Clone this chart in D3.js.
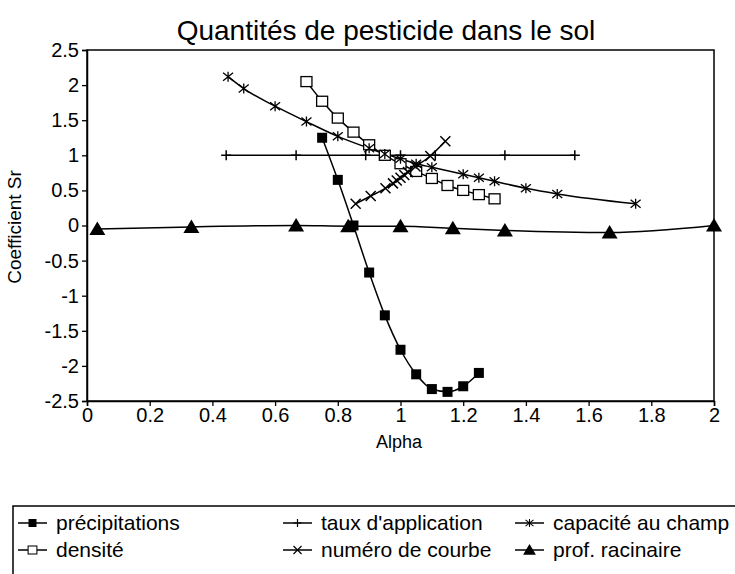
<!DOCTYPE html>
<html><head><meta charset="utf-8">
<script src="https://cdn.jsdelivr.net/npm/d3@7"></script>
<style>body{margin:0;background:#fff}svg{display:block}text{font-family:"Liberation Sans",Arial,sans-serif;fill:#000}</style>
</head><body><svg id="c" width="735" height="574"></svg>
<script>
const xTicks=[0,0.2,0.4,0.6,0.8,1,1.2,1.4,1.6,1.8,2];
const yTicks=[2.5,2,1.5,1,0.5,0,-0.5,-1,-1.5,-2,-2.5];
const precipX=[0.75,0.80,0.85,0.90,0.95,1.00,1.05,1.10,1.15,1.20,1.25];
const precipY=[1.25,0.65,0.00,-0.67,-1.28,-1.77,-2.12,-2.33,-2.37,-2.29,-2.10];
const densX=[0.70,0.75,0.80,0.85,0.90,0.95,1.00,1.05,1.10,1.15,1.20,1.25,1.30];
const densY=[2.05,1.77,1.53,1.33,1.15,1.00,0.88,0.77,0.67,0.57,0.50,0.44,0.38];
const tauxX=[0.444,0.667,0.889,1.0,1.111,1.333,1.556];
const tauxY=[1,1,1,1,1,1,1];
const courbeX=[0.857,0.905,0.952,0.976,0.988,1.0,1.012,1.024,1.048,1.095,1.143];
const courbeY=[0.31,0.42,0.53,0.60,0.64,0.68,0.72,0.76,0.84,0.99,1.20];
const capX=[0.45,0.5,0.6,0.7,0.8,0.9,0.95,1.0,1.05,1.1,1.2,1.25,1.3,1.4,1.5,1.75];
const capY=[2.12,1.95,1.70,1.48,1.27,1.10,1.02,0.95,0.88,0.83,0.73,0.68,0.63,0.53,0.45,0.31];
const profX=[0.033,0.333,0.667,0.833,1.0,1.167,1.333,1.667,2.0];
const profY=[-0.05,-0.02,0.0,-0.01,-0.01,-0.04,-0.07,-0.10,0.0];
const seriesNames=["précipitations","densité","taux d'application","numéro de courbe","capacité au champ","prof. racinaire"];

const svg=d3.select("#c");
const L=87,R=714,T=50,B=401;
const x=d3.scaleLinear().domain([0,2]).range([L,R]);
const y=d3.scaleLinear().domain([-2.5,2.5]).range([B,T]);

svg.append("text").attr("x",386).attr("y",40).attr("text-anchor","middle").style("font-size","28px").text("Quantités de pesticide dans le sol");

// frame
svg.append("rect").attr("x",L).attr("y",T).attr("width",R-L).attr("height",B-T).attr("fill","none").attr("stroke","#000").attr("stroke-width",1.5);
const gx=svg.append("g").attr("transform",`translate(0,${B})`).call(d3.axisBottom(x).tickValues(xTicks).tickSize(5).tickPadding(1).tickFormat(d=>String(d)));
const gy=svg.append("g").attr("transform",`translate(${L},0)`).call(d3.axisLeft(y).tickValues(yTicks).tickSize(5).tickPadding(3).tickFormat(d=>String(d)));
[gx,gy].forEach(g=>{g.select(".domain").attr("stroke-width",1.5);g.selectAll(".tick line").attr("stroke-width",1.3);g.selectAll("text").style("font-size","20px").style("font-family","Liberation Sans, Arial, sans-serif");});
gx.selectAll("text").attr("dy","0.75em");
svg.append("text").attr("x",399).attr("y",448).attr("text-anchor","middle").style("font-size","18px").text("Alpha");
svg.append("text").attr("transform","translate(21,227) rotate(-90)").attr("text-anchor","middle").style("font-size","19px").text("Coefficient Sr");

// markers
function marker(g,type,cx,cy){
  const s=g.append("g").attr("transform",`translate(${cx},${cy})`);
  if(type==="fsq") s.append("rect").attr("x",-5).attr("y",-5).attr("width",10).attr("height",10).attr("fill","#000");
  else if(type==="osq") s.append("rect").attr("x",-5.5).attr("y",-5).attr("width",11).attr("height",10).attr("fill","#fff").attr("stroke","#000").attr("stroke-width",1.3);
  else if(type==="plus") s.append("path").attr("d","M-5,0H5M0,-5V5").attr("stroke","#000").attr("stroke-width",1.5);
  else if(type==="x") s.append("path").attr("d","M-5,-5L5,5M-5,5L5,-5").attr("stroke","#000").attr("stroke-width",1.5);
  else if(type==="ast") s.append("path").attr("d","M-5,-4L5,4M-5,4L5,-4M0,-5V5").attr("stroke","#000").attr("stroke-width",1.3);
  else if(type==="tri") s.append("path").attr("d","M0,-7.5L8,6H-8Z").attr("fill","#000");
}
const series=[
 {name:seriesNames[0],xs:precipX,ys:precipY,m:"fsq"},
 {name:seriesNames[1],xs:densX,ys:densY,m:"osq"},
 {name:seriesNames[2],xs:tauxX,ys:tauxY,m:"plus"},
 {name:seriesNames[3],xs:courbeX,ys:courbeY,m:"x"},
 {name:seriesNames[4],xs:capX,ys:capY,m:"ast"},
 {name:seriesNames[5],xs:profX,ys:profY,m:"tri"}];
const line=d3.line().x(d=>x(d[0])).y(d=>y(d[1])).curve(d3.curveMonotoneX);
const plot=svg.append("g");
series.forEach(s=>{
  const pts=s.xs.map((v,i)=>[v,s.ys[i]]);
  plot.append("path").attr("d",line(pts)).attr("fill","none").attr("stroke","#000").attr("stroke-width",1.5);
});
series.forEach(s=>{
  s.xs.forEach((v,i)=>marker(plot,s.m,x(v),y(s.ys[i])));
});

// legend
svg.append("path").attr("d","M13,574V506H735").attr("fill","none").attr("stroke","#000").attr("stroke-width",1.5);
const legPos=[[18,523],[18,550],[283,523],[283,550],[515,523],[515,550]];
series.forEach((s,i)=>{
  const [lx,ly]=legPos[i];
  const g=svg.append("g");
  g.append("line").attr("x1",lx).attr("x2",lx+29).attr("y1",ly).attr("y2",ly).attr("stroke","#000").attr("stroke-width",1.5);
  const mg=g.append("g").attr("transform",`translate(${lx+14.5},${ly}) scale(0.8) translate(${-(lx+14.5)},${-ly})`);
  marker(mg,s.m,lx+14.5,ly);
  g.append("text").attr("x",lx+38).attr("y",ly).attr("dy","0.35em").style("font-size","21px").text(s.name);
});
</script></body></html>
